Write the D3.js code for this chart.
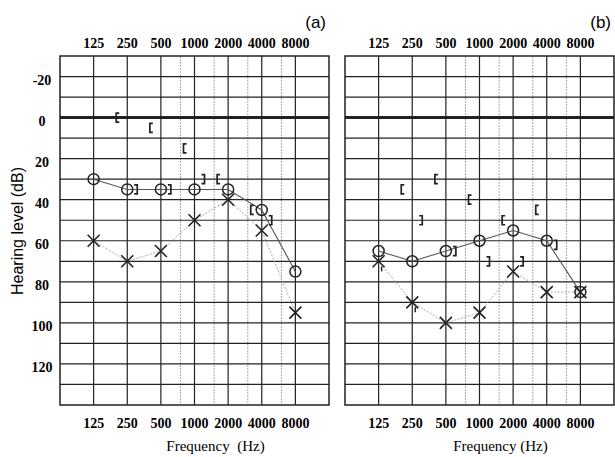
<!DOCTYPE html>
<html>
<head>
<meta charset="utf-8">
<script src="https://cdn.jsdelivr.net/npm/d3@7"></script>
<style>
  body { margin: 0; background: #fff; }
  svg { display: block; }
  .serif { font-family: "Liberation Serif", "Tinos", "DejaVu Serif", Times, serif; }
</style>
</head>
<body>
<svg id="chart" width="615" height="457"></svg>
<script>
// audiogram frequencies (Hz)
const freqs = [125, 250, 500, 1000, 2000, 4000, 8000];
const halfOctaves = [750, 1500, 3000, 6000];
const dbTicks = [-20, 0, 20, 40, 60, 80, 100, 120];
const dbGrid = [-20, -10, 0, 10, 20, 30, 40, 50, 60, 70, 80, 90, 100, 110, 120, 130];

// panel (a)
const aCircle = [30, 35, 35, 35, 35, 45, 75];
const aCross = [60, 70, 65, 50, 40, 55, 95];
const aOpenBracket = [{ f: 250, db: 0 }, { f: 500, db: 5 }, { f: 1000, db: 15 }, { f: 2000, db: 30 }, { f: 4000, db: 45 }];
const aCloseBracket = [{ f: 250, db: 35 }, { f: 500, db: 35 }, { f: 1000, db: 30 }, { f: 4000, db: 50 }];

// panel (b)
const bCircle = [65, 70, 65, 60, 55, 60, 85];
const bCross = [70, 90, 100, 95, 75, 85, 85];
const bOpenBracket = [{ f: 250, db: 35 }, { f: 500, db: 30 }, { f: 1000, db: 40 }, { f: 2000, db: 50 }, { f: 4000, db: 45 }];
const bCloseBracket = [{ f: 250, db: 50 }, { f: 500, db: 65 }, { f: 1000, db: 70 }, { f: 2000, db: 70 }, { f: 4000, db: 62 }];
const bTicks = [{ f: 125, db: 70 }, { f: 250, db: 90 }];

const svg = d3.select("#chart");

function drawPanel(left, right, opts) {
  const x = d3.scaleLog().base(2).domain([62.5, 16000]).range([left, right]);
  const y = d3.scaleLinear().domain([-30, 140]).range([56, 405]);
  const g = svg.append("g");

  // dotted half-octave lines
  g.selectAll(".half")
    .data(halfOctaves)
    .enter()
    .append("line")
    .attr("x1", d => x(d)).attr("x2", d => x(d))
    .attr("y1", y(-30)).attr("y2", y(140))
    .attr("stroke", "#aaa")
    .attr("stroke-width", 1)
    .attr("stroke-dasharray", "2,1");

  // horizontal grid
  g.selectAll(".hgrid")
    .data(dbGrid)
    .enter()
    .append("line")
    .attr("x1", x(62.5)).attr("x2", x(16000))
    .attr("y1", d => y(d)).attr("y2", d => y(d))
    .attr("stroke", "#222")
    .attr("stroke-width", d => d === 0 ? 3 : 1.2);

  // octave lines
  g.selectAll(".vgrid")
    .data(freqs)
    .enter()
    .append("line")
    .attr("x1", d => x(d)).attr("x2", d => x(d))
    .attr("y1", y(-30)).attr("y2", y(140))
    .attr("stroke", "#222")
    .attr("stroke-width", 1.2);

  g.append("rect")
    .attr("x", x(62.5)).attr("y", y(-30))
    .attr("width", x(16000) - x(62.5))
    .attr("height", y(140) - y(-30))
    .attr("fill", "none")
    .attr("stroke", "#222")
    .attr("stroke-width", 1.5);

  // frequency labels top & bottom
  [48, 428].forEach(base => {
    g.selectAll(null)
      .data(freqs)
      .enter()
      .append("text")
      .attr("class", "serif")
      .attr("x", d => x(d))
      .attr("y", base)
      .attr("text-anchor", "middle")
      .style("font-weight", "bold")
      .style("font-size", "14px")
      .text(d => d);
  });

  g.append("text")
    .attr("class", "serif")
    .attr("x", (left + right) / 2 + 21)
    .attr("y", 451)
    .attr("text-anchor", "middle")
    .style("font-size", "15px")
    .style("white-space", "pre")
    .text(opts.xLabel);

  g.append("text")
    .attr("x", right - 3)
    .attr("y", 28)
    .attr("text-anchor", "end")
    .style("font-family", "'Liberation Sans', Arial, sans-serif")
    .style("font-size", "17px")
    .text(opts.title);

  const lineGen = d3.line().x((d, i) => x(freqs[i])).y(d => y(d));

  // cross line (light dotted)
  g.append("path")
    .datum(opts.cross)
    .attr("d", lineGen)
    .attr("fill", "none")
    .attr("stroke", "#aaa")
    .attr("stroke-width", 1)
    .attr("stroke-dasharray", "2,1.5");

  // circle line
  g.append("path")
    .datum(opts.circle)
    .attr("d", lineGen)
    .attr("fill", "none")
    .attr("stroke", "#555")
    .attr("stroke-width", 1.1);

  g.selectAll(".circ")
    .data(opts.circle)
    .enter()
    .append("circle")
    .attr("cx", (d, i) => x(freqs[i]))
    .attr("cy", d => y(d))
    .attr("r", 5.5)
    .attr("fill", "none")
    .attr("stroke", "#222")
    .attr("stroke-width", 1.5);

  const s = 6;
  g.selectAll(".cross")
    .data(opts.cross)
    .enter()
    .append("path")
    .attr("transform", (d, i) => `translate(${x(freqs[i])},${y(d)})`)
    .attr("d", `M${-s},${-s}L${s},${s}M${-s},${s}L${s},${-s}`)
    .attr("stroke", "#222")
    .attr("stroke-width", 1.6)
    .attr("fill", "none");

  // bone conduction brackets
  g.selectAll(".ob")
    .data(opts.open)
    .enter()
    .append("path")
    .attr("transform", d => `translate(${x(d.f) - 11},${y(d.db)})`)
    .attr("d", "M3,-4.5L0,-4.5L0,4.5L3,4.5")
    .attr("stroke", "#222")
    .attr("stroke-width", 1.7)
    .attr("fill", "none");

  g.selectAll(".cb")
    .data(opts.close)
    .enter()
    .append("path")
    .attr("transform", d => `translate(${x(d.f) + 10},${y(d.db)})`)
    .attr("d", "M-3,-4.5L0,-4.5L0,4.5L-3,4.5")
    .attr("stroke", "#222")
    .attr("stroke-width", 1.7)
    .attr("fill", "none");

  if (opts.ticks) {
    g.selectAll(".tk")
      .data(opts.ticks)
      .enter()
      .append("line")
      .attr("x1", d => x(d.f) + 3).attr("x2", d => x(d.f) + 3)
      .attr("y1", d => y(d.db) + 5).attr("y2", d => y(d.db) + 10)
      .attr("stroke", "#222")
      .attr("stroke-width", 1.5);
  }

  return y;
}

const yA = drawPanel(60, 329, {
  title: "(a)", xLabel: "Frequency  (Hz)",
  circle: aCircle, cross: aCross, open: aOpenBracket, close: aCloseBracket
});

drawPanel(345, 614, {
  title: "(b)", xLabel: "Frequency (Hz)",
  circle: bCircle, cross: bCross, open: bOpenBracket, close: bCloseBracket, ticks: bTicks
});

// y axis labels (left panel only)
svg.selectAll(".ytick")
  .data(dbTicks)
  .enter()
  .append("text")
  .attr("class", "serif")
  .attr("x", 42)
  .attr("y", d => yA(d) + 8)
  .attr("text-anchor", "middle")
  .style("font-weight", "bold")
  .style("font-size", "14px")
  .text(d => d);

svg.append("text")
  .attr("transform", "translate(23,231) rotate(-90)")
  .attr("text-anchor", "middle")
  .style("font-family", "'Liberation Sans', Arial, sans-serif")
  .style("font-size", "16px")
  .text("Hearing level (dB)");
</script>
</body>
</html>
